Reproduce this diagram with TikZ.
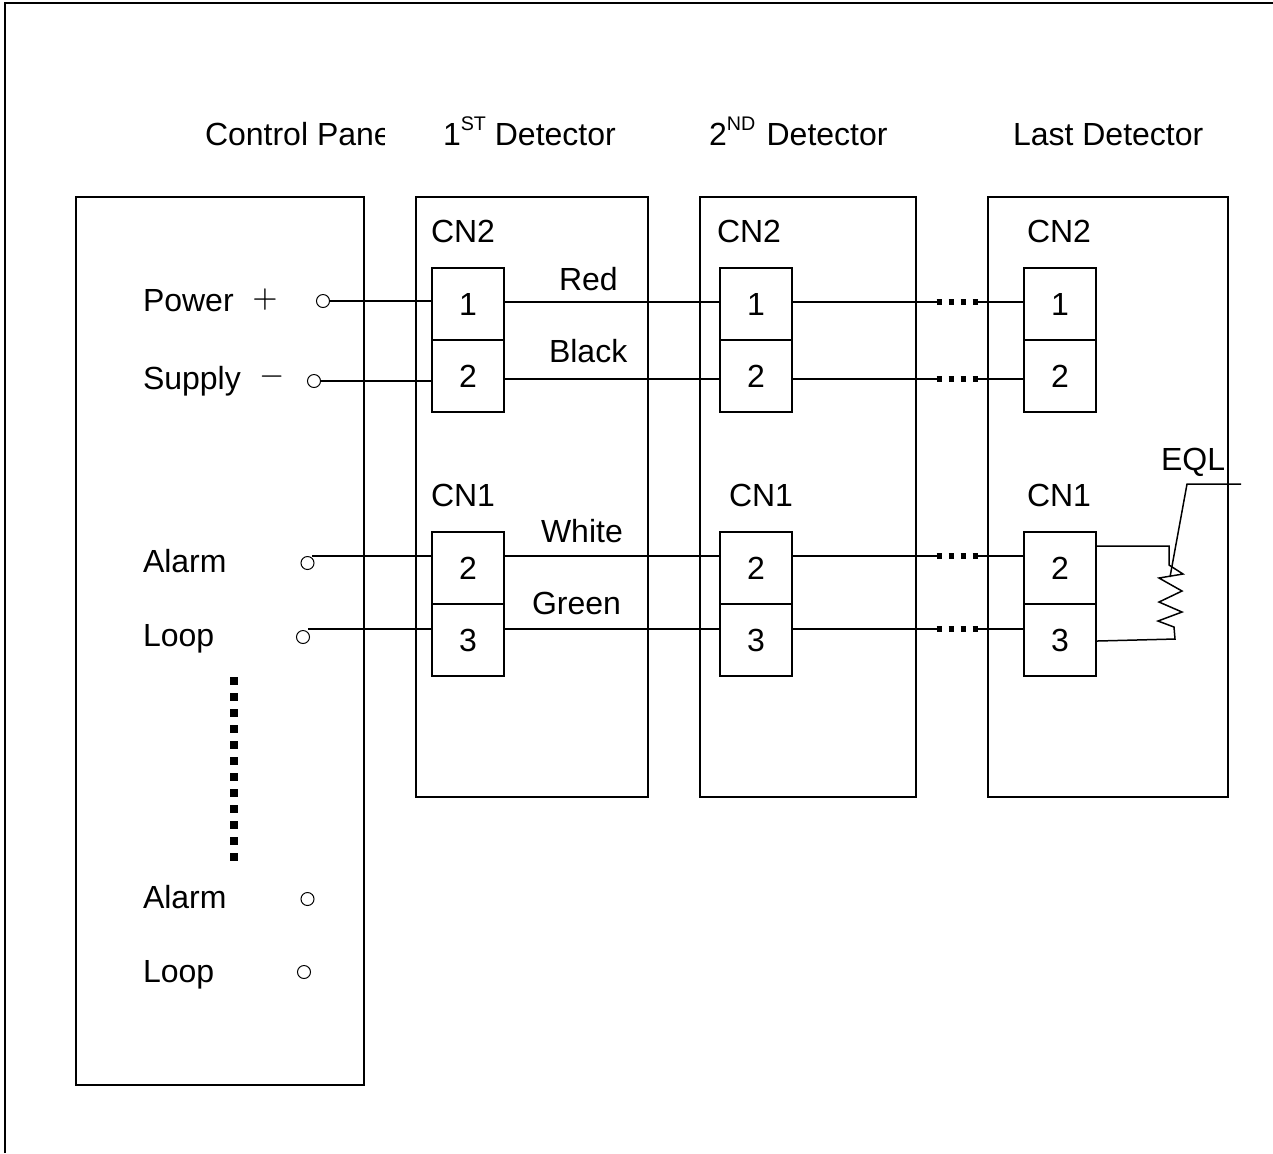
\documentclass[tikz,border=0pt]{standalone}
\usepackage{fontspec}
\setmainfont{Liberation Sans}
\usepackage{tikz}

\newcommand{\suptext}[1]{\raisebox{4pt}{\fontsize{5.6pt}{6pt}\selectfont #1}}

\tikzset{
  unitbox/.style={shape=rectangle,draw=black,inner sep=0pt},
  cell/.style={shape=rectangle,draw=black,inner sep=0pt,minimum width=0.72cm,minimum height=0.72cm},
  lbl/.style={anchor=base west,inner sep=0pt},
  term/.style={shape=circle,draw=black,inner sep=0pt,minimum size=0.13cm,line width=0.1mm},
  wire/.style={draw=black},
  gap/.style={draw=black,line width=0.6mm,dash pattern=on 0.055cm off 0.065cm}
}

\begin{document}
\begin{tikzpicture}[x=0.01cm,y=-0.01cm,line width=0.2mm,font=\fontsize{9.1pt}{10pt}\selectfont]
\useasboundingbox (0,0) rectangle (1273,1153);

\coordinate (FA) at (5,1153);
\coordinate (FB) at (5,3);
\coordinate (FC) at (1273,3);
\draw[line width=0.15mm] (FA) -- (FB) -- (FC);

\node[unitbox,minimum width=2.88cm,minimum height=8.88cm] (panel) at (220,641) {};
\node[unitbox,minimum width=2.32cm,minimum height=6cm] (dta) at (532,497) {};
\node[unitbox,minimum width=2.16cm,minimum height=6cm] (dtb) at (808,497) {};
\node[unitbox,minimum width=2.40cm,minimum height=6cm] (dtc) at (1108,497) {};

\begin{scope}
\clip (190,100) rectangle (384,170);
\node[lbl] (title) at (204,145) {Control Panel};
\end{scope}
\node[lbl] (titlea) at (442,145) {1\suptext{ST} Detector};
\node[lbl] (titleb) at (708,145) {2\suptext{ND}\kern0.7pt{} Detector};
\node[lbl] (titlec) at (1012,145) {Last Detector};

\node[lbl] (cnat) at (430,242) {CN2};
\node[lbl] (cnbt) at (716,242) {CN2};
\node[lbl] (cnct) at (1026,242) {CN2};
\node[lbl] (cnab) at (430,506) {CN1};
\node[lbl] (cnbb) at (728,506) {CN1};
\node[lbl] (cncb) at (1026,506) {CN1};

\node[cell] (a1) at (468,304) {1};
\node[cell] (a2) at (468,376) {2};
\node[cell] (a3) at (468,568) {2};
\node[cell] (a4) at (468,640) {3};
\node[cell] (b1) at (756,304) {1};
\node[cell] (b2) at (756,376) {2};
\node[cell] (b3) at (756,568) {2};
\node[cell] (b4) at (756,640) {3};
\node[cell] (c1) at (1060,304) {1};
\node[cell] (c2) at (1060,376) {2};
\node[cell] (c3) at (1060,568) {2};
\node[cell] (c4) at (1060,640) {3};

\node[lbl] (power) at (142,311) {Power};
\node[lbl] (supply) at (142,389) {Supply};
\node[lbl] (alarma) at (142,572) {Alarm};
\node[lbl] (loopa) at (142,646) {Loop};
\node[lbl] (alarmb) at (142,908) {Alarm};
\node[lbl] (loopb) at (142,982) {Loop};
\node[inner sep=0pt] (plus) at (265,300) {$+$};
\node[inner sep=0pt] (minus) at (272,377) {$-$};

\node[term] (ta) at (323,301) {};
\node[term] (tb) at (314,381) {};
\node[term] (tc) at (307.5,563) {};
\node[term] (td) at (303,637) {};
\node[term] (te) at (307.5,899) {};
\node[term] (tf) at (304,972) {};

\coordinate (ra) at (0,302);
\coordinate (rb) at (0,379);
\coordinate (rc) at (0,556);
\coordinate (rd) at (0,629);

\draw[wire] (ta) -- (a1.west |- ta);
\draw[wire] (tb) -- (a2.west |- tb);
\draw[wire] (tc.north east |- rc) -- (a3.west |- rc);
\draw[wire] (td.north east |- rd) -- (a4.west |- rd);

\draw[wire] (a1.east |- ra) -- (b1.west |- ra);
\draw[wire] (a2.east |- rb) -- (b2.west |- rb);
\draw[wire] (a3.east |- rc) -- (b3.west |- rc);
\draw[wire] (a4.east |- rd) -- (b4.west |- rd);

\node[lbl] (red) at (558,290) {Red};
\node[lbl] (black) at (548,362) {Black};
\node[lbl] (white) at (540,542) {White};
\node[lbl] (green) at (531,614) {Green};
\node[lbl] (eql) at (1160,470) {EQL};

\coordinate (gaa) at (936.5,302);
\coordinate (gab) at (978,302);
\coordinate (gba) at (936.5,379);
\coordinate (gbb) at (978,379);
\coordinate (gca) at (936.5,556);
\coordinate (gcb) at (978,556);
\coordinate (gda) at (936.5,629);
\coordinate (gdb) at (978,629);
\coordinate (gea) at (234,677);
\coordinate (geb) at (234,861);
\draw[wire] (b1.east |- ra) -- (gaa);
\draw[wire] (b2.east |- rb) -- (gba);
\draw[wire] (b3.east |- rc) -- (gca);
\draw[wire] (b4.east |- rd) -- (gda);
\draw[gap] (gaa) -- (gab);
\draw[gap] (gba) -- (gbb);
\draw[gap] (gca) -- (gcb);
\draw[gap] (gda) -- (gdb);
\draw[wire] (gab) -- (c1.west |- ra);
\draw[wire] (gbb) -- (c2.west |- rb);
\draw[wire] (gcb) -- (c3.west |- rc);
\draw[wire] (gdb) -- (c4.west |- rd);
\draw[line width=0.8mm,dash pattern=on 0.08cm off 0.08cm] (gea) -- (geb);

\coordinate (rga) at (1169,546);
\coordinate (rgb) at (1175,639);
\coordinate (rgc) at (1097,641);
\coordinate (eqa) at (1241,484);
\coordinate (eqb) at (1187,484);
\coordinate (eqc) at (1170,577);
\draw[wire,line width=0.15mm] (c3.east |- rga) -- (rga) -- (1169,565) -- (1183,574) -- (1159,578) -- (1182,591) -- (1159,602) -- (1182,612) -- (1158,621) -- (1174,627) -- (rgb) -- (rgc);
\draw[wire,line width=0.15mm] (eqa) -- (eqb) -- (eqc);
\end{tikzpicture}
\end{document}
